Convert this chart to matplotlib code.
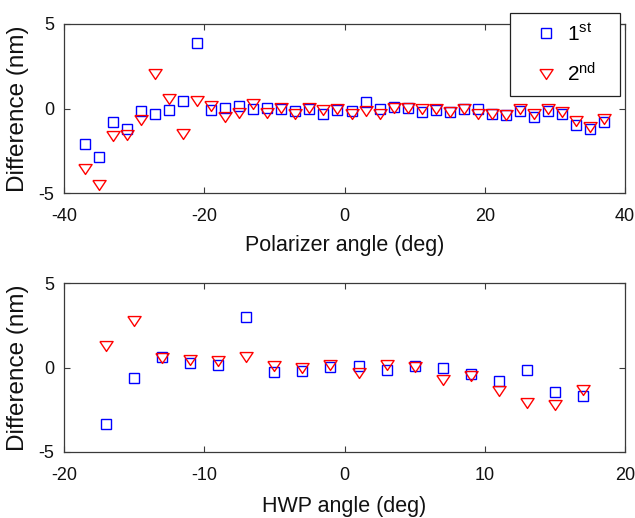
import matplotlib
matplotlib.use("Agg")
import matplotlib.pyplot as plt

plt.rcParams['font.family'] = ['Liberation Sans', 'DejaVu Sans']
plt.rcParams['mathtext.fontset'] = 'custom'
plt.rcParams['mathtext.rm'] = 'Liberation Sans'
plt.rcParams['mathtext.it'] = 'Liberation Sans:italic'
plt.rcParams['axes.unicode_minus'] = False

# ---- data: top panel (polarizer angle) ----
polarizer_angle = [-37, -35, -33, -31, -29, -27, -25, -23, -21, -19, -17, -15, -13,
                   -11, -9, -7, -5, -3, -1, 1, 3, 5, 7, 9, 11, 13, 15, 17, 19, 21,
                   23, 25, 27, 29, 31, 33, 35, 37]
pol_first = [-2.1, -2.85, -0.8, -1.2, -0.15, -0.35, -0.1, 0.45, 3.9, -0.1, 0.05, 0.15,
             0.0, 0.05, 0.0, -0.15, 0.0, -0.3, -0.1, -0.15, 0.4, -0.05, 0.1, 0.05,
             -0.2, -0.1, -0.2, 0.0, 0.0, -0.3, -0.4, -0.15, -0.5, -0.15, -0.3, -0.95,
             -1.2, -0.8]
pol_second = [-3.6, -4.5, -1.65, -1.55, -0.7, 2.05, 0.55, -1.5, 0.45, 0.15, -0.5, -0.25,
              0.25, -0.25, 0.05, -0.3, 0.05, -0.1, 0.0, -0.35, -0.15, -0.3, 0.05, 0.05,
              -0.05, -0.05, -0.2, -0.05, -0.3, -0.3, -0.4, -0.05, -0.35, -0.05, -0.2,
              -0.75, -1.1, -0.65]

# ---- data: bottom panel (HWP angle) ----
hwp_angle = [-17, -15, -13, -11, -9, -7, -5, -3, -1, 1, 3, 5, 7, 9, 11, 13, 15, 17]
hwp_first = [-3.35, -0.65, 0.65, 0.27, 0.13, 3.0, -0.27, -0.2, 0.03, 0.07, -0.13, 0.09,
             -0.05, -0.36, -0.82, -0.13, -1.45, -1.68]
hwp_second = [1.25, 2.73, 0.56, 0.43, 0.39, 0.62, 0.07, 0.0, 0.13, -0.3, 0.13, 0.03,
              -0.72, -0.52, -1.39, -2.1, -2.24, -1.31]

series_labels = ['1$^{\\rm st}$', '2$^{\\rm nd}$']
top_xticks = [-40, -20, 0, 20, 40]
bot_xticks = [-20, -10, 0, 10, 20]
yticks = [-5, 0, 5]

W, H = 635, 518
fig = plt.figure(figsize=(W / 100, H / 100), dpi=100)

def px_axes(l, t, r, b):
    return fig.add_axes([l / W, 1 - b / H, (r - l) / W, (b - t) / H])

ax1 = px_axes(64, 24, 625, 193)
ax2 = px_axes(64, 283, 625, 452)

tri = [(-1, 0.75), (1, 0.75), (0, -0.75), (-1, 0.75)]
blue = '#0000FF'
red = '#FF0000'
spine_c = '#3a3a3a'

def style(ax, xlim, xticks, xlabel, xlab_y):
    ax.set_xlim(*xlim)
    ax.set_ylim(-5, 5)
    ax.set_xticks(xticks)
    ax.set_yticks(yticks)
    ax.tick_params(direction='in', length=4.5, width=0.8, colors=spine_c,
                   labelcolor='#111111', labelsize=13, top=True, right=True)
    ax.tick_params(axis='x', pad=11)
    ax.tick_params(axis='y', pad=7)
    for s in ax.spines.values():
        s.set_color(spine_c)
        s.set_linewidth(0.9)
    ax.set_xlabel(xlabel, fontsize=15.5, color='#111111')
    ax.set_ylabel('Difference (nm)', fontsize=17.5, color='#111111')
    ax.xaxis.set_label_coords(0.5, xlab_y)
    ax.yaxis.set_label_coords(-0.062, 0.5)

l1, = ax1.plot(polarizer_angle, pol_first, linestyle='none', marker='s', markersize=6.8,
               markerfacecolor='none', markeredgecolor=blue, markeredgewidth=1.0)
l2, = ax1.plot(polarizer_angle, pol_second, linestyle='none', marker=tri, markersize=9.5,
               markerfacecolor='none', markeredgecolor=red, markeredgewidth=1.0)
style(ax1, (-40, 40), top_xticks, 'Polarizer angle (deg)', -0.25)

ax2.plot(hwp_angle, hwp_first, linestyle='none', marker='s', markersize=6.8,
         markerfacecolor='none', markeredgecolor=blue, markeredgewidth=1.0)
ax2.plot(hwp_angle, hwp_second, linestyle='none', marker=tri, markersize=9.5,
         markerfacecolor='none', markeredgecolor=red, markeredgewidth=1.0)
style(ax2, (-20, 20), bot_xticks, 'HWP angle (deg)', -0.26)

leg_top = 12.7
leg_bot = 96
leg = ax1.legend([l1, l2], series_labels, loc='upper left',
                 bbox_to_anchor=(510 / W, 1 - leg_bot / H, 110 / W, (leg_bot - leg_top) / H),
                 bbox_transform=fig.transFigure, mode='expand',
                 borderaxespad=0, fontsize=15, frameon=True, fancybox=False,
                 framealpha=1, edgecolor='#222222', borderpad=0.5,
                 handlelength=2.5, handletextpad=-0.25, labelspacing=0.85)
leg.get_frame().set_linewidth(0.9)

fig.savefig('out.png', dpi=100)
